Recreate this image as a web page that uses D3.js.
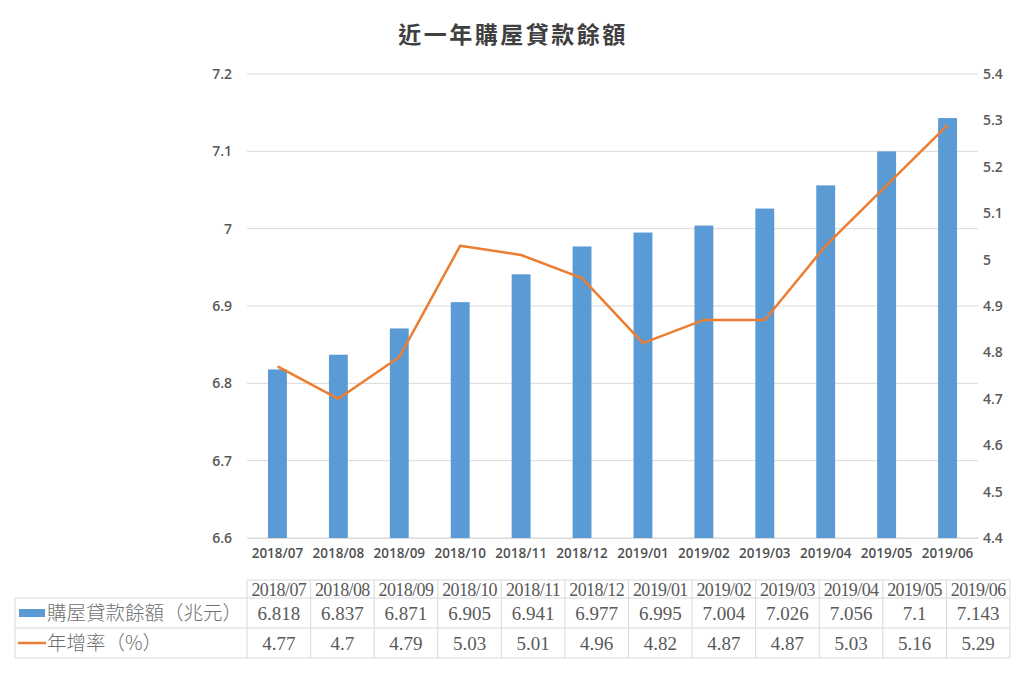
<!DOCTYPE html>
<html><head><meta charset="utf-8">
<script src="https://cdn.jsdelivr.net/npm/d3@7/dist/d3.min.js"></script>
<style>body{margin:0;background:#fff}svg{display:block}</style>
</head><body><svg id="c" width="1024" height="674"></svg>
<script>
const categories = ["2018/07","2018/08","2018/09","2018/10","2018/11","2018/12","2019/01","2019/02","2019/03","2019/04","2019/05","2019/06"];
const balance = [6.818,6.837,6.871,6.905,6.941,6.977,6.995,7.004,7.026,7.056,7.1,7.143];
const growth = [4.77,4.7,4.79,5.03,5.01,4.96,4.82,4.87,4.87,5.03,5.16,5.29];
const leftTicks = [6.6,6.7,6.8,6.9,7.0,7.1,7.2];
const rightTicks = [4.4,4.5,4.6,4.7,4.8,4.9,5.0,5.1,5.2,5.3,5.4];
const balanceLabels = ["6.818","6.837","6.871","6.905","6.941","6.977","6.995","7.004","7.026","7.056","7.1","7.143"];
const growthLabels = ["4.77","4.7","4.79","5.03","5.01","4.96","4.82","4.87","4.87","5.03","5.16","5.29"];
const seriesNames = ["購屋貸款餘額（兆元）","年增率（%）"];
const title = "近一年購屋貸款餘額";

const svg = d3.select("#c");
const L = 247, R = 978, T = 74, B = 538;
const x = d3.scaleBand().domain(categories).range([L, R]).paddingInner(0.69).paddingOuter(0.345);
const yL = d3.scaleLinear().domain([6.6, 7.2]).range([B, T]);
const yR = d3.scaleLinear().domain([4.4, 5.4]).range([B, T]);
const sans = "'Open Sans','DejaVu Sans',sans-serif";

svg.append("text").attr("x", 513).attr("y", 43).attr("text-anchor", "middle")
  .attr("font-family", "'Noto Sans CJK TC',sans-serif").attr("font-weight", "bold")
  .attr("font-size", 23).attr("letter-spacing", 2.5).attr("fill", "#404040").text(title);

// gridlines
svg.append("g").selectAll("line").data(leftTicks).join("line")
  .attr("x1", L).attr("x2", R).attr("y1", d => yL(d)).attr("y2", d => yL(d))
  .attr("stroke", "#d9d9d9").attr("stroke-width", 1);

// left axis
const gl = svg.append("g").attr("transform", `translate(${L},0)`)
  .call(d3.axisLeft(yL).tickValues(leftTicks).tickSize(0).tickPadding(15).tickFormat(d => d3.format("")(+d.toFixed(1))));
gl.select(".domain").remove();
gl.selectAll("text").attr("font-family", sans).attr("font-size", 14).attr("font-weight", 600).attr("fill", "#595959");

// right axis
const gr = svg.append("g").attr("transform", `translate(${R},0)`)
  .call(d3.axisRight(yR).tickValues(rightTicks).tickSize(0).tickPadding(5).tickFormat(d => d3.format("")(+d.toFixed(1))));
gr.select(".domain").remove();
gr.selectAll("text").attr("font-family", sans).attr("font-size", 14).attr("font-weight", 600).attr("fill", "#595959");

// bottom axis
const gb = svg.append("g").attr("transform", `translate(0,${B})`)
  .call(d3.axisBottom(x).tickSize(0).tickPadding(10));
gb.select(".domain").attr("stroke", "#d9d9d9");
gb.selectAll("text").attr("font-family", sans).attr("font-size", 13.5).attr("font-weight", 600).attr("fill", "#505050");

// bars
svg.append("g").selectAll("rect").data(balance).join("rect")
  .attr("x", (d, i) => x(categories[i])).attr("width", x.bandwidth())
  .attr("y", d => yL(d)).attr("height", d => B - yL(d)).attr("fill", "#5B9BD5");

// line
const line = d3.line().x((d, i) => x(categories[i]) + x.bandwidth() / 2).y(d => yR(d));
svg.append("path").datum(growth).attr("d", line).attr("fill", "none")
  .attr("stroke", "#ED7D31").attr("stroke-width", 2.5).attr("stroke-linejoin", "round");

// data table
const tL = 247, tR = 1010, tLeft = 15;
const tx = d3.scaleBand().domain(categories).range([tL, tR]);
const rows = [580, 598, 628, 658];
const tg = svg.append("g");
const bc = "#d9d9d9";
tg.append("line").attr("x1", tL).attr("x2", tR).attr("y1", rows[0]).attr("y2", rows[0]).attr("stroke", bc);
[rows[1], rows[2], rows[3]].forEach(y => tg.append("line").attr("x1", tLeft).attr("x2", tR).attr("y1", y).attr("y2", y).attr("stroke", bc));
tg.append("line").attr("x1", tLeft).attr("x2", tLeft).attr("y1", rows[1]).attr("y2", rows[3]).attr("stroke", bc);
categories.forEach(c => tg.append("line").attr("x1", tx(c)).attr("x2", tx(c)).attr("y1", rows[0]).attr("y2", rows[3]).attr("stroke", bc));
tg.append("line").attr("x1", tR).attr("x2", tR).attr("y1", rows[0]).attr("y2", rows[3]).attr("stroke", bc);

const serif = "'Liberation Serif','DejaVu Serif',serif";
tg.selectAll("text.h").data(categories).join("text").attr("class", "h")
  .attr("x", d => tx(d) + tx.bandwidth() / 2).attr("y", 596).attr("text-anchor", "middle")
  .attr("font-family", serif).attr("font-size", 18).attr("letter-spacing", -0.6).attr("fill", "#595959").text(d => d);
tg.selectAll("text.b").data(balanceLabels).join("text").attr("class", "b")
  .attr("x", (d, i) => tx(categories[i]) + tx.bandwidth() / 2).attr("y", 620).attr("text-anchor", "middle")
  .attr("font-family", serif).attr("font-size", 19).attr("fill", "#595959").text(d => d);
tg.selectAll("text.g").data(growthLabels).join("text").attr("class", "g")
  .attr("x", (d, i) => tx(categories[i]) + tx.bandwidth() / 2).attr("y", 650).attr("text-anchor", "middle")
  .attr("font-family", serif).attr("font-size", 19).attr("fill", "#595959").text(d => d);

// legend keys
tg.append("rect").attr("x", 19).attr("y", 609).attr("width", 26).attr("height", 8).attr("fill", "#5B9BD5");
tg.append("line").attr("x1", 18).attr("x2", 46).attr("y1", 643).attr("y2", 643).attr("stroke", "#ED7D31").attr("stroke-width", 2.5);
tg.append("text").attr("x", 47).attr("y", 620).attr("font-family", "'Noto Sans CJK TC',serif")
  .attr("font-size", 19.5).attr("font-weight", 300).attr("fill", "#6f6f6f").text(seriesNames[0]);
tg.append("text").attr("x", 47).attr("y", 650).attr("font-family", "'Noto Sans CJK TC',serif")
  .attr("font-size", 19.5).attr("font-weight", 300).attr("fill", "#6f6f6f").text(seriesNames[1]);
</script></body></html>
